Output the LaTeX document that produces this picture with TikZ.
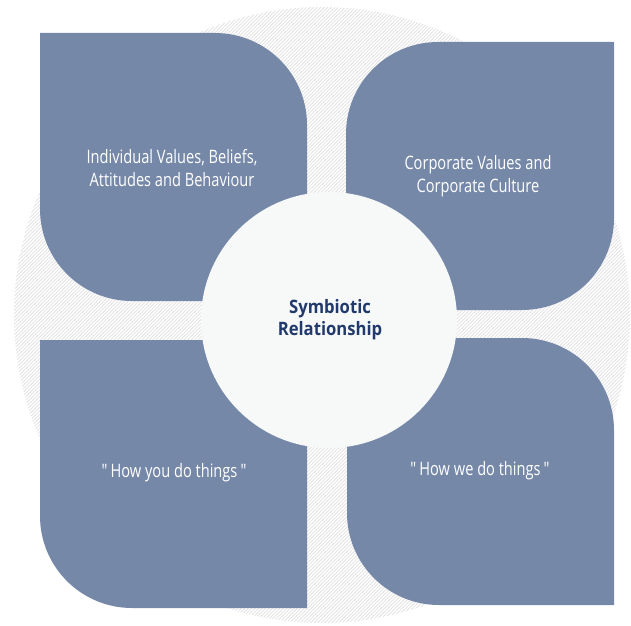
\documentclass[tikz,border=0pt]{standalone}
\usepackage{fontspec}
\setmainfont{Open Sans}
\newfontfamily\leaffont[FakeStretch=0.79]{Open Sans}
\newfontfamily\hubfont[FakeStretch=0.9]{Open Sans}
\usetikzlibrary{arrows}
\definecolor{leafblue}{HTML}{7688A8}
\definecolor{hubnavy}{HTML}{22396C}
\definecolor{hubwhite}{HTML}{F7F9F9}
\definecolor{hatchgray}{HTML}{E4E4E4}
\tikzset{
  leaf/.style={fill=leafblue},
  leaftext/.style={text=white,align=center,font=\leaffont\fontsize{18.5}{23}\selectfont},
  hubtext/.style={text=hubnavy,align=center,font=\hubfont\bfseries\fontsize{18.5}{22}\selectfont},
  hatch/.style={draw=hatchgray,line width=0.8pt}
}

\begin{document}
\begin{tikzpicture}[line cap=round,line join=round,x=1.0pt,y=1.0pt]
      \useasboundingbox (0,0) rectangle (631,625);
      \begin{scope}
        \clip (322,310) circle (308);
        \foreach \i in {-640,-636.5,...,640}
          \draw [hatch] (\i,0) -- ++(625,625);
      \end{scope}
      \fill [leaf] (40,592) -- (215,592) arc[start angle=90,end angle=0,radius=92] -- (307,324) -- (132,324) arc[start angle=270,end angle=180,radius=92] -- cycle;
      \fill [leaf] (614,583) -- (438,583) arc[start angle=90,end angle=180,radius=92] -- (346,315) -- (522,315) arc[start angle=270,end angle=360,radius=92] -- cycle;
      \fill [leaf] (307,17) -- (132,17) arc[start angle=270,end angle=180,radius=92] -- (40,285) -- (215,285) arc[start angle=90,end angle=0,radius=92] -- cycle;
      \fill [leaf] (614,20) -- (439,20) arc[start angle=270,end angle=180,radius=92] -- (347,287) -- (522,287) arc[start angle=90,end angle=0,radius=92] -- cycle;
      \fill [hubwhite] (329,305) circle (128);
      \node [leaftext] (individual) at (172,457) {Individual Values, Beliefs,\\Attitudes and Behaviour};
      \node [leaftext] (corporate) at (478,449) {Corporate Values and\\Corporate Culture};
      \node [leaftext] (howyou) at (174,152) {"\,How you do things\,"};
      \node [leaftext] (howwe) at (480,154) {"\,How we do things\,"};
      \node [hubtext] (symbiotic) at (330,305) {Symbiotic\\Relationship};
    \end{tikzpicture}
\end{document}
